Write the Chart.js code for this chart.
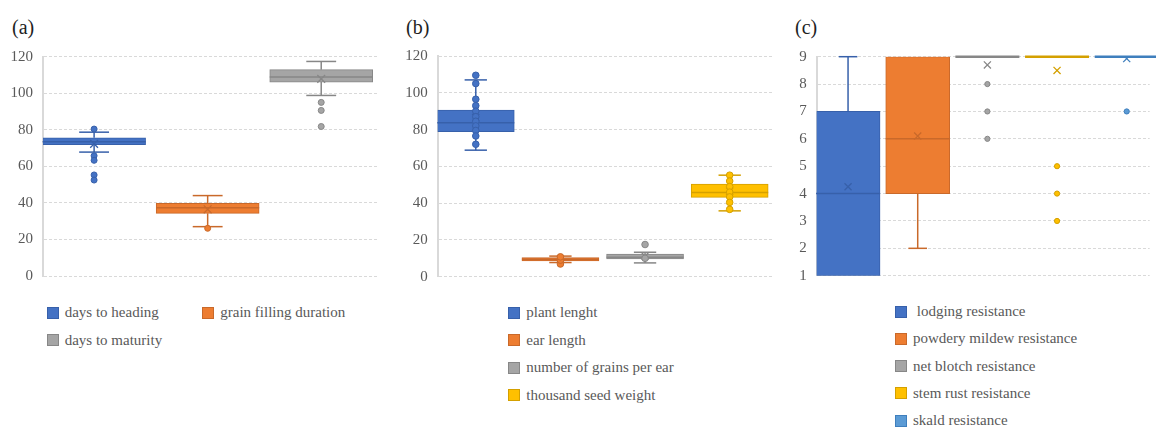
<!DOCTYPE html>
<html>
<head>
<meta charset="utf-8">
<script src="https://cdn.jsdelivr.net/npm/chart.js@4.4.1/dist/chart.umd.min.js"></script>
<style>
  html, body { margin: 0; padding: 0; background: #fff; overflow: hidden; width: 1156px; height: 427px; }
  canvas { position: absolute; top: 0; }
  .tag { position: absolute; top: 17px; font: 20px "Liberation Serif", serif; line-height: 20px; color: #1f1f1f; }
  .legend { position: absolute; display: grid; font: 15px "Liberation Serif", serif; color: #595959; }
  .item { display: flex; align-items: center; white-space: pre; }
  .sw { width: 12px; height: 12px; box-sizing: border-box; border: 1px solid; margin-right: 6px; flex: none; }
</style>
</head>
<body>
<div class="tag" style="left:12px">(a)</div>
<div class="tag" style="left:406px">(b)</div>
<div class="tag" style="left:795px">(c)</div>
<canvas id="chartA" width="390" height="290" style="left:0"></canvas>
<canvas id="chartB" width="390" height="290" style="left:390px"></canvas>
<canvas id="chartC" width="376" height="290" style="left:780px"></canvas>
<div id="legendA" class="legend"></div>
<div id="legendB" class="legend"></div>
<div id="legendC" class="legend"></div>
<script>
// (a) phenology, days
const phenoNames = ['days to heading', 'grain filling duration', 'days to maturity'];
const phenoQ1 = [71.8, 34.3, 106.1];
const phenoMedian = [73.5, 37.4, 108.9];
const phenoQ3 = [75.6, 39.8, 112.9];
const phenoMin = [67.8, 27.0, 98.8];
const phenoMax = [78.7, 44.0, 117.4];
const phenoMean = [72.3, 36.5, 107.9];
const phenoPoints = [[80.4, 65.8, 63.3, 55.3, 52.5], [26.1], [95.0, 90.6, 81.8]];
const phenoTicks = [0, 20, 40, 60, 80, 100, 120];

// (b) plant and grain traits
const traitNames = ['plant lenght', 'ear length', 'number of grains per ear', 'thousand seed weight'];
const traitQ1 = [78.8, 8.6, 9.6, 43.1];
const traitMedian = [83.7, 9.5, 10.6, 45.8];
const traitQ3 = [90.6, 10.4, 12.3, 50.3];
const traitMin = [68.8, 7.7, 7.5, 35.8];
const traitMax = [107.0, 11.2, 13.3, 55.2];
const traitMean = [86.5, 9.6, 11.2, 46.5];
const traitPoints = [
  [109.5, 105.0, 96.5, 93.0, 90.0, 87.0, 84.5, 82.0, 79.5, 76.5, 72.0],
  [6.9, 9.0, 10.8],
  [17.5, 10.0],
  [55.2, 52.0, 49.0, 46.0, 43.4, 40.4, 36.6]
];
const traitTicks = [0, 20, 40, 60, 80, 100, 120];

// (c) resistance scores (1-9)
const resistNames = [' lodging resistance', 'powdery mildew resistance', 'net blotch resistance', 'stem rust resistance', 'skald resistance'];
const resistQ1 = [1, 4, 9, 9, 9];
const resistMedian = [4, 6, 9, 9, 9];
const resistQ3 = [7, 9, 9, 9, 9];
const resistMin = [1, 2, 9, 9, 9];
const resistMax = [9, 9, 9, 9, 9];
const resistMean = [4.25, 6.1, 8.7, 8.5, 8.93];
const resistPoints = [[], [], [8, 7, 6], [5, 4, 3], [7]];
const resistTicks = [1, 2, 3, 4, 5, 6, 7, 8, 9];

const palette = {
  blue:   { fill: '#4472C4', line: '#3760AA' },
  orange: { fill: '#ED7D31', line: '#C9692A' },
  gray:   { fill: '#A5A5A5', line: '#878787' },
  gold:   { fill: '#FFC000', line: '#D4A000' },
  sky:    { fill: '#5B9BD5', line: '#3F7FBD' }
};

const FONT = '"Liberation Serif", serif';
const TEXT = '#595959';
const GRID = '#D9D9D9';

// whiskers, caps and median line for every box
const whiskerPlugin = {
  id: 'whiskers',
  afterDatasetDraw(chart, args) {
    const ds = chart.data.datasets[args.index];
    if (!ds.box) return;
    const bar = args.meta.data[0];
    const ys = chart.scales.y;
    const ctx = chart.ctx;
    const x = bar.x, w = bar.width, cap = w * 0.29;
    const b = ds.box;
    const py = v => ys.getPixelForValue(v);
    ctx.save();
    ctx.strokeStyle = ds.borderColor;
    ctx.lineWidth = 1.5;
    const seg = (x1, y1, x2, y2) => { ctx.beginPath(); ctx.moveTo(x1, y1); ctx.lineTo(x2, y2); ctx.stroke(); };
    if (b.max > b.q3) {
      seg(x, py(b.q3), x, py(b.max));
      seg(x - cap / 2, py(b.max), x + cap / 2, py(b.max));
    }
    if (b.min < b.q1) {
      seg(x, py(b.q1), x, py(b.min));
      seg(x - cap / 2, py(b.min), x + cap / 2, py(b.min));
    }
    ctx.lineWidth = b.q1 === b.q3 ? 2.5 : 1.5;
    seg(x - w / 2, py(b.median), x + w / 2, py(b.median));
    ctx.restore();
  }
};

function boxChart(id, cfg) {
  const datasets = [];
  cfg.names.forEach((name, i) => {
    const c = i + 0.5;
    const pal = cfg.colors[i];
    datasets.push({
      type: 'bar', label: name, order: 2,
      data: [{ x: c, y: [cfg.q1[i], cfg.q3[i]] }],
      backgroundColor: pal.fill, borderColor: pal.line, borderWidth: 1,
      borderSkipped: false, grouped: false, barThickness: cfg.boxPx,
      box: { q1: cfg.q1[i], q3: cfg.q3[i], median: cfg.median[i], min: cfg.min[i], max: cfg.max[i] }
    });
    datasets.push({
      type: 'line', label: name + ' points', order: 0, showLine: false,
      data: cfg.points[i].map(v => ({ x: c, y: v })),
      pointStyle: 'circle', pointRadius: cfg.dotR,
      pointBackgroundColor: pal.fill, pointBorderColor: pal.line, pointBorderWidth: 1
    });
    datasets.push({
      type: 'line', label: name + ' mean', order: 0, showLine: false,
      data: [{ x: c, y: cfg.mean[i] }],
      pointStyle: 'crossRot', pointRadius: cfg.meanR,
      pointBorderColor: pal.line, pointBorderWidth: 1.3
    });
  });

  const chart = new Chart(document.getElementById(id), {
    type: 'bar',
    data: { datasets },
    plugins: [whiskerPlugin],
    options: {
      responsive: false,
      animation: false,
      devicePixelRatio: 1,
      events: [],
      layout: { padding: cfg.padding },
      plugins: { legend: { display: false }, tooltip: { enabled: false } },
      scales: {
        x: { type: 'linear', min: 0.05, max: cfg.xMax, display: false, offset: false },
        y: {
          min: cfg.ticks[0], max: cfg.ticks[cfg.ticks.length - 1],
          afterBuildTicks: s => { s.ticks = cfg.ticks.map(v => ({ value: v })); },
          afterFit: s => { s.width = cfg.axisW; },
          // invisible tick marks keep the labels 10px off the axis
          grid: { color: GRID, lineWidth: 1, drawTicks: true, tickLength: 10, tickColor: 'rgba(0,0,0,0)' },
          border: { display: true, color: GRID, width: 2, dash: [3, 2] },
          ticks: { padding: 0, color: TEXT, font: { family: FONT, size: 15 } }
        }
      }
    }
  });
  return chart;
}

function htmlLegend(el, chart, opts) {
  el.style.left = opts.left + 'px';
  el.style.top = opts.top + 'px';
  el.style.gridTemplateColumns = opts.columns;
  el.style.gridAutoRows = opts.row + 'px';
  chart.data.datasets.filter(ds => ds.box).forEach(ds => {
    const item = document.createElement('div');
    item.className = 'item';
    const sw = document.createElement('span');
    sw.className = 'sw';
    sw.style.background = ds.backgroundColor;
    sw.style.borderColor = ds.borderColor;
    const txt = document.createElement('span');
    txt.textContent = ds.label;
    item.appendChild(sw);
    item.appendChild(txt);
    el.appendChild(item);
  });
}

const chartA = boxChart('chartA', {
  names: phenoNames, q1: phenoQ1, median: phenoMedian, q3: phenoQ3,
  min: phenoMin, max: phenoMax, mean: phenoMean, points: phenoPoints, ticks: phenoTicks,
  colors: [palette.blue, palette.orange, palette.gray],
  xMax: 3.0, boxPx: 103, dotR: 3, meanR: 5.5, axisW: 43,
  padding: { left: 0, right: 12, top: 56.7, bottom: 14 }
});
const chartB = boxChart('chartB', {
  names: traitNames, q1: traitQ1, median: traitMedian, q3: traitQ3,
  min: traitMin, max: traitMax, mean: traitMean, points: traitPoints, ticks: traitTicks,
  colors: [palette.blue, palette.orange, palette.gray, palette.gold],
  xMax: 4.02, boxPx: 77, dotR: 3.3, meanR: 5, axisW: 47.7,
  padding: { left: 0, right: 5.3, top: 56, bottom: 13.3 }
});
const chartC = boxChart('chartC', {
  names: resistNames, q1: resistQ1, median: resistMedian, q3: resistQ3,
  min: resistMin, max: resistMax, mean: resistMean, points: resistPoints, ticks: resistTicks,
  colors: [palette.blue, palette.orange, palette.gray, palette.gold, palette.sky],
  xMax: 4.83, boxPx: 64, dotR: 2.6, meanR: 5, axisW: 36.7,
  padding: { left: 0, right: 0, top: 56.7, bottom: 14.3 }
});

htmlLegend(document.getElementById('legendA'), chartA, { left: 46.7, top: 299.2, columns: '155.6px auto', row: 27.4 });
htmlLegend(document.getElementById('legendB'), chartB, { left: 508.3, top: 299.2, columns: 'auto', row: 27.4 });
htmlLegend(document.getElementById('legendC'), chartC, { left: 895, top: 298.2, columns: 'auto', row: 27.2 });
</script>
</body>
</html>
